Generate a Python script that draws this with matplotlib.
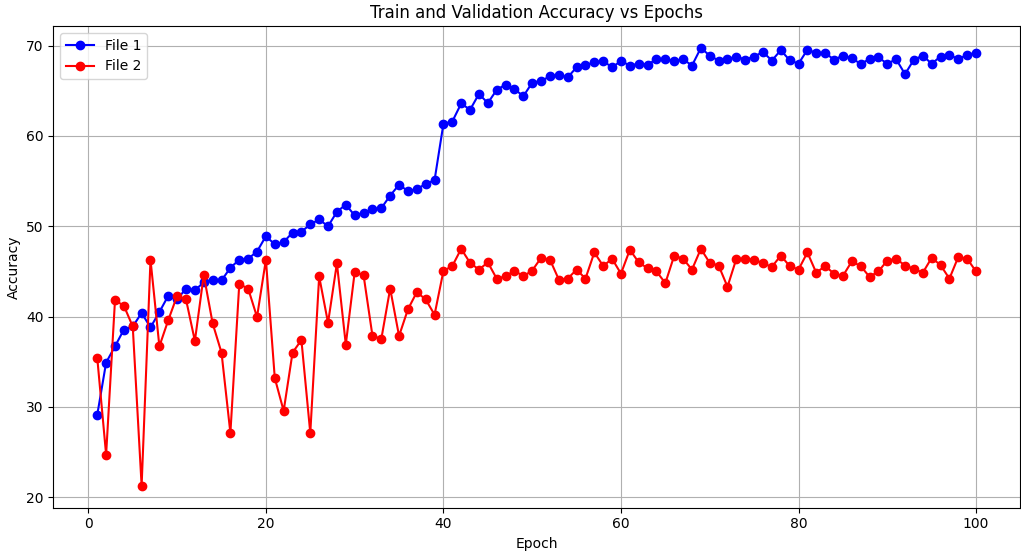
import matplotlib
matplotlib.use("Agg")
import matplotlib.pyplot as plt

epochs = list(range(1, 101))

file1_acc = [
    29.1, 34.9, 36.7, 38.55, 38.9, 40.4, 38.8, 40.5, 42.3, 41.9,
    43.1, 42.9, 43.8, 44.1, 44.0, 45.4, 46.3, 46.4, 47.2, 48.9,
    48.0, 48.25, 49.3, 49.4, 50.2, 50.75, 50.0, 51.6, 52.4, 51.2,
    51.5, 51.9, 52.0, 53.4, 54.6, 53.9, 54.1, 54.7, 55.1, 61.35,
    61.6, 63.6, 62.9, 64.65, 63.65, 65.1, 65.7, 65.2, 64.4, 65.9,
    66.1, 66.6, 66.8, 66.5, 67.6, 67.85, 68.15, 68.3, 67.6, 68.3,
    67.8, 68.0, 67.9, 68.5, 68.5, 68.3, 68.5, 67.8, 69.75, 68.9,
    68.35, 68.5, 68.8, 68.45, 68.8, 69.3, 68.35, 69.5, 68.4, 68.0,
    69.55, 69.2, 69.2, 68.45, 68.9, 68.6, 68.0, 68.5, 68.7, 68.0,
    68.5, 66.85, 68.45, 68.9, 68.0, 68.8, 69.0, 68.5, 69.0, 69.2,
]

file2_acc = [
    35.45, 24.7, 41.8, 41.2, 38.9, 21.25, 46.3, 36.7, 39.6, 42.3,
    41.9, 37.3, 44.6, 39.25, 36.0, 27.1, 43.6, 43.1, 39.95, 46.3,
    33.2, 29.55, 36.0, 37.4, 27.1, 44.45, 39.3, 45.9, 36.9, 44.9,
    44.6, 37.9, 37.5, 43.1, 37.85, 40.8, 42.7, 41.9, 40.2, 45.05,
    45.6, 47.5, 45.95, 45.2, 46.0, 44.2, 44.45, 45.1, 44.45, 45.1,
    46.5, 46.3, 44.1, 44.2, 45.2, 44.2, 47.1, 45.6, 46.4, 44.75,
    47.4, 46.0, 45.35, 45.0, 43.7, 46.75, 46.4, 45.2, 47.5, 45.95,
    45.65, 43.3, 46.4, 46.4, 46.3, 45.9, 45.5, 46.75, 45.6, 45.2,
    47.1, 44.85, 45.6, 44.75, 44.5, 46.1, 45.6, 44.4, 45.0, 46.2,
    46.4, 45.65, 45.3, 44.85, 46.5, 45.7, 44.2, 46.6, 46.4, 45.0,
]

fig, ax = plt.subplots(figsize=(10.21, 5.54), dpi=100)
fig.subplots_adjust(left=0.0522, right=0.9990, top=0.953, bottom=0.0835)

ax.plot(epochs, file1_acc, color="blue", marker="o", label="File 1")
ax.plot(epochs, file2_acc, color="red", marker="o", label="File 2")

ax.set_title("Train and Validation Accuracy vs Epochs")
ax.set_xlabel("Epoch")
ax.set_ylabel("Accuracy")
ax.legend(loc="upper left")
ax.grid(True)

fig.savefig("out.png", dpi=100)
